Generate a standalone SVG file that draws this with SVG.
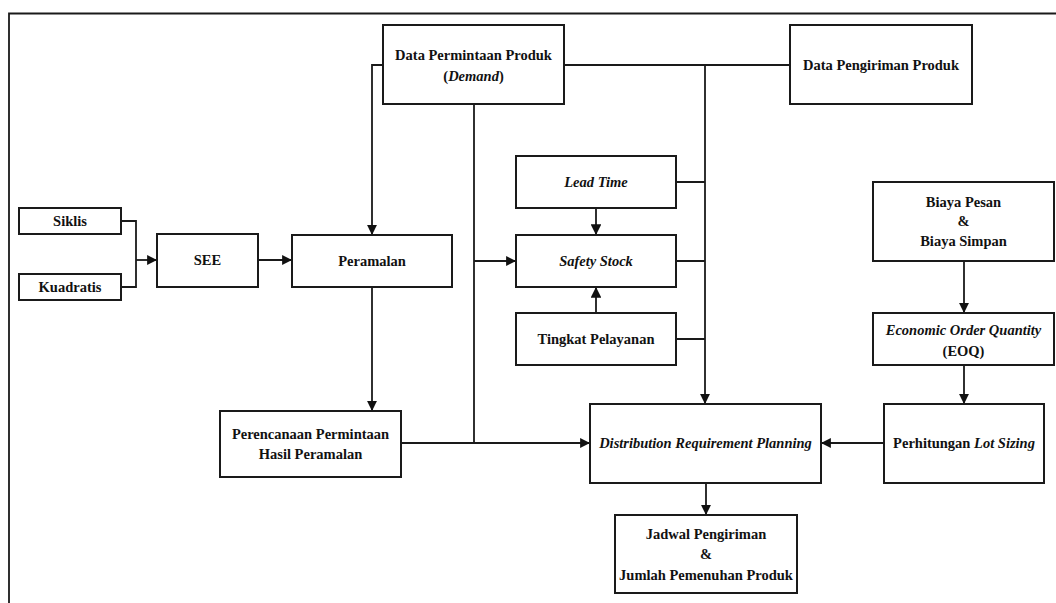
<svg xmlns="http://www.w3.org/2000/svg" width="1056" height="603" viewBox="0 0 1056 603">
<style>
.box{fill:#fff;stroke:#1a1a1a;stroke-width:2}
.ln{fill:none;stroke:#1a1a1a;stroke-width:1.8}
.t{font-family:'Liberation Serif','Times New Roman','DejaVu Serif',serif;font-weight:700;font-size:14.5px;fill:#111;text-anchor:middle}
.i{font-style:italic}
</style>
<defs>
<marker id="ah" viewBox="0 0 10 10" refX="10" refY="5" markerWidth="5.5" markerHeight="5.5" orient="auto" markerUnits="strokeWidth">
<path d="M0,0 L10,5 L0,10 z" fill="#111"/>
</marker>
<marker id="ahs" viewBox="0 0 10 10" refX="10" refY="5" markerWidth="6" markerHeight="6" orient="auto" markerUnits="strokeWidth">
<path d="M0,0 L10,5 L0,10 z" fill="#111"/>
</marker>
</defs>
<rect width="1056" height="603" fill="#fff"/>
<g id="frame">
<path class="ln" d="M9,603 V13.5 H1056" stroke-width="2"/>
</g>
<g id="connectors">
<path class="ln" d="M121,221 H136 V287 H121"/>
<path class="ln" d="M136,260 H157" marker-end="url(#ah)"/>
<path class="ln" d="M258,260 H292" marker-end="url(#ah)"/>
<path class="ln" d="M383,65 H372 V235" marker-end="url(#ah)"/>
<path class="ln" d="M372,287 V411" marker-end="url(#ah)"/>
<path class="ln" d="M401,443 H590" marker-end="url(#ah)"/>
<path class="ln" d="M474,104 V443"/>
<path class="ln" d="M474,261 H516" marker-end="url(#ah)"/>
<path class="ln" d="M564,65 H790"/>
<path class="ln" d="M705,65 V404" marker-end="url(#ah)"/>
<path class="ln" d="M676,182 H705 M676,261 H705 M676,339 H705"/>
<path class="ln" d="M596,208 V235" stroke-width="1.3" marker-end="url(#ahs)"/>
<path class="ln" d="M596,313 V287" stroke-width="1.3" marker-end="url(#ahs)"/>
<path class="ln" d="M964,261 V313" marker-end="url(#ah)"/>
<path class="ln" d="M964,365 V404" marker-end="url(#ah)"/>
<path class="ln" d="M884,443 H821" marker-end="url(#ah)"/>
<path class="ln" d="M706,483 V515" marker-end="url(#ah)"/>
</g>
<g id="siklis"><rect class="box" x="19" y="208" width="102" height="26"/><text class="t" x="70" y="226">Siklis</text></g>
<g id="kuadratis"><rect class="box" x="19" y="274" width="102" height="26"/><text class="t" x="70" y="292">Kuadratis</text></g>
<g id="see"><rect class="box" x="157" y="234" width="101" height="53"/><text class="t" x="207.5" y="265">SEE</text></g>
<g id="peramalan"><rect class="box" x="292" y="235" width="160" height="52"/><text class="t" x="372" y="266">Peramalan</text></g>
<g id="demand"><rect class="box" x="383" y="25" width="181" height="79"/><text class="t" x="473.5" y="60">Data Permintaan Produk</text><text class="t" x="473.5" y="81">(<tspan class="i">Demand</tspan>)</text></g>
<g id="pengiriman"><rect class="box" x="790" y="25" width="182" height="79"/><text class="t" x="881" y="70">Data Pengiriman Produk</text></g>
<g id="leadtime"><rect class="box" x="516" y="156" width="160" height="52"/><text class="t i" x="596" y="187">Lead Time</text></g>
<g id="safety"><rect class="box" x="516" y="235" width="160" height="52"/><text class="t i" x="596" y="266">Safety Stock</text></g>
<g id="tingkat"><rect class="box" x="516" y="313" width="160" height="52"/><text class="t" x="596" y="344">Tingkat Pelayanan</text></g>
<g id="biaya"><rect class="box" x="873" y="182" width="181" height="79"/><text class="t" x="963.5" y="207">Biaya Pesan</text><text class="t" x="963.5" y="226">&amp;</text><text class="t" x="963.5" y="246">Biaya Simpan</text></g>
<g id="eoq"><rect class="box" x="873" y="313" width="181" height="52"/><text class="t i" x="963.5" y="335">Economic Order Quantity</text><text class="t" x="963.5" y="356">(EOQ)</text></g>
<g id="perencanaan"><rect class="box" x="220" y="411" width="181" height="66"/><text class="t" x="310.5" y="439">Perencanaan Permintaan</text><text class="t" x="310.5" y="459">Hasil Peramalan</text></g>
<g id="drp"><rect class="box" x="590" y="404" width="231" height="79"/><text class="t i" x="705.5" y="448">Distribution Requirement Planning</text></g>
<g id="lotsizing"><rect class="box" x="884" y="404" width="160" height="79"/><text class="t" x="964" y="448">Perhitungan <tspan class="i">Lot Sizing</tspan></text></g>
<g id="jadwal"><rect class="box" x="615" y="515" width="182" height="78"/><text class="t" x="706" y="539">Jadwal Pengiriman</text><text class="t" x="706" y="559">&amp;</text><text class="t" x="706" y="580">Jumlah Pemenuhan Produk</text></g>
</svg>
